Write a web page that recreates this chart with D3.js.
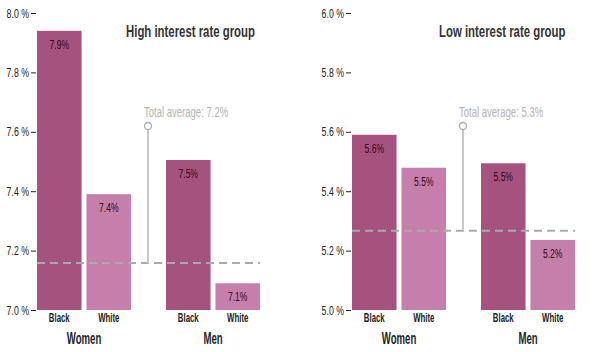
<!DOCTYPE html>
<html>
<head>
<meta charset="utf-8">
<script src="https://cdn.jsdelivr.net/npm/d3@7"></script>
<style>
  body { margin: 0; background: #fff; }
  text { font-family: "Liberation Sans", Arial, sans-serif; }
</style>
</head>
<body>
<div id="chart-area"></div>
<script>
// data
const groups = ["Women", "Men"]
const races = ["Black", "White"]
const highValues = [7.94, 7.39, 7.505, 7.09]
const highLabels = ["7.9%", "7.4%", "7.5%", "7.1%"]
const highAverage = 7.158
const lowValues = [5.59, 5.479, 5.494, 5.236]
const lowLabels = ["5.6%", "5.5%", "5.5%", "5.2%"]
const lowAverage = 5.267
const highTicks = [7.0, 7.2, 7.4, 7.6, 7.8, 8.0]
const lowTicks = [5.0, 5.2, 5.4, 5.6, 5.8, 6.0]

const svgWidth = 595
const svgHeight = 352
const plotTop = 13, plotBottom = 310

const svg = d3.select("#chart-area")
  .append("svg")
  .attr("width", svgWidth)
  .attr("height", svgHeight)

const colors = { Black: "#a5527f", White: "#c67eaa" }

// squeeze text horizontally to mimic a condensed font
function condense(sel, k) {
  sel.each(function () {
    const w = this.getComputedTextLength()
    d3.select(this).attr("textLength", w * k).attr("lengthAdjust", "spacingAndGlyphs")
  })
}

function drawPanel(opt) {
  const rows = []
  groups.forEach((g, gi) => races.forEach((r, ri) => {
    rows.push({ group: g, race: r, value: opt.values[gi * 2 + ri], label: opt.labels[gi * 2 + ri] })
  }))

  const yScale = d3.scaleLinear()
    .domain([opt.ticks[0], opt.ticks[opt.ticks.length - 1]])
    .range([plotBottom, plotTop])

  const xGroup = d3.scaleBand()
    .domain(groups)
    .range([opt.x0, opt.x1])
    .paddingInner(0.271)

  const xRace = d3.scaleBand()
    .domain(races)
    .range([0, xGroup.bandwidth()])
    .paddingInner(0.1)

  const panel = svg.append("g")

  // y axis
  panel.append("g")
    .attr("transform", `translate(${opt.x0},0)`)
    .call(d3.axisLeft(yScale).tickValues(opt.ticks).tickSize(5).tickPadding(3)
      .tickFormat(d => d3.format(".1f")(d) + " %"))
    .call(g => g.select(".domain").remove())
    .call(g => g.selectAll(".tick line").attr("stroke", "#222").attr("transform", "translate(-1,0)"))
    .call(g => g.selectAll(".tick text")
      .attr("fill", "#222")
      .attr("font-size", 12.5)
      .attr("font-family", "'Liberation Sans', sans-serif")
      .call(condense, 0.7))

  // bars
  panel.append("g")
    .selectAll("rect")
    .data(rows)
    .join("rect")
    .attr("x", d => xGroup(d.group) + xRace(d.race))
    .attr("y", d => yScale(d.value))
    .attr("width", xRace.bandwidth())
    .attr("height", d => yScale(opt.ticks[0]) - yScale(d.value))
    .attr("fill", d => colors[d.race])

  // value labels
  panel.append("g")
    .attr("text-anchor", "middle")
    .attr("font-size", 12.5)
    .attr("fill", "#2e0a20")
    .selectAll("text")
    .data(rows)
    .join("text")
    .attr("x", d => xGroup(d.group) + xRace(d.race) + xRace.bandwidth() / 2)
    .attr("y", d => yScale(d.value) + 18)
    .text(d => d.label)
    .call(condense, 0.68)

  // race labels
  panel.append("g")
    .attr("text-anchor", "middle")
    .attr("font-size", 13)
    .attr("font-weight", "bold")
    .attr("fill", "#222")
    .selectAll("text")
    .data(rows)
    .join("text")
    .attr("x", d => xGroup(d.group) + xRace(d.race) + xRace.bandwidth() / 2)
    .attr("y", 322)
    .text(d => d.race)
    .call(condense, 0.6)

  // group labels
  panel.append("g")
    .attr("text-anchor", "middle")
    .attr("font-size", 16)
    .attr("font-weight", "bold")
    .attr("fill", "#222")
    .selectAll("text")
    .data(groups)
    .join("text")
    .attr("x", d => xGroup(d) + xGroup.bandwidth() / 2)
    .attr("y", 344)
    .text(d => d)
    .call(condense, 0.6)

  // average line
  const avgY = yScale(opt.average)
  panel.append("line")
    .attr("x1", opt.x0).attr("x2", opt.x1)
    .attr("y1", avgY).attr("y2", avgY)
    .attr("stroke", "#aaa")
    .attr("stroke-width", 2)
    .attr("stroke-dasharray", "8,5")

  // annotation
  const ax = opt.annX
  panel.append("line")
    .attr("x1", ax).attr("x2", ax)
    .attr("y1", 130).attr("y2", avgY)
    .attr("stroke", "#c8c8c8")
    .attr("stroke-width", 2)
  panel.append("circle")
    .attr("cx", ax).attr("cy", 126)
    .attr("r", 3.5)
    .attr("fill", "#fff")
    .attr("stroke", "#aaa")
    .attr("stroke-width", 1.3)
  panel.append("text")
    .attr("x", ax - 4)
    .attr("y", 117)
    .attr("font-size", 14)
    .attr("fill", "#b5b5b5")
    .text(opt.annText)
    .call(condense, 0.68)

  // title (scaled with a transform so its box stays inside the page)
  const k = 0.67
  panel.append("text")
    .attr("transform", `translate(${opt.titleX},37) scale(${k},1)`)
    .attr("font-size", 17)
    .attr("font-weight", "bold")
    .attr("fill", "#333")
    .text(opt.title)
}

drawPanel({
  values: highValues, labels: highLabels, average: highAverage, ticks: highTicks,
  x0: 37, x1: 260, annX: 148, annText: "Total average: 7.2%",
  title: "High interest rate group", titleX: 126
})

drawPanel({
  values: lowValues, labels: lowLabels, average: lowAverage, ticks: lowTicks,
  x0: 352, x1: 575, annX: 463, annText: "Total average: 5.3%",
  title: "Low interest rate group", titleX: 439
})
</script>
</body>
</html>
